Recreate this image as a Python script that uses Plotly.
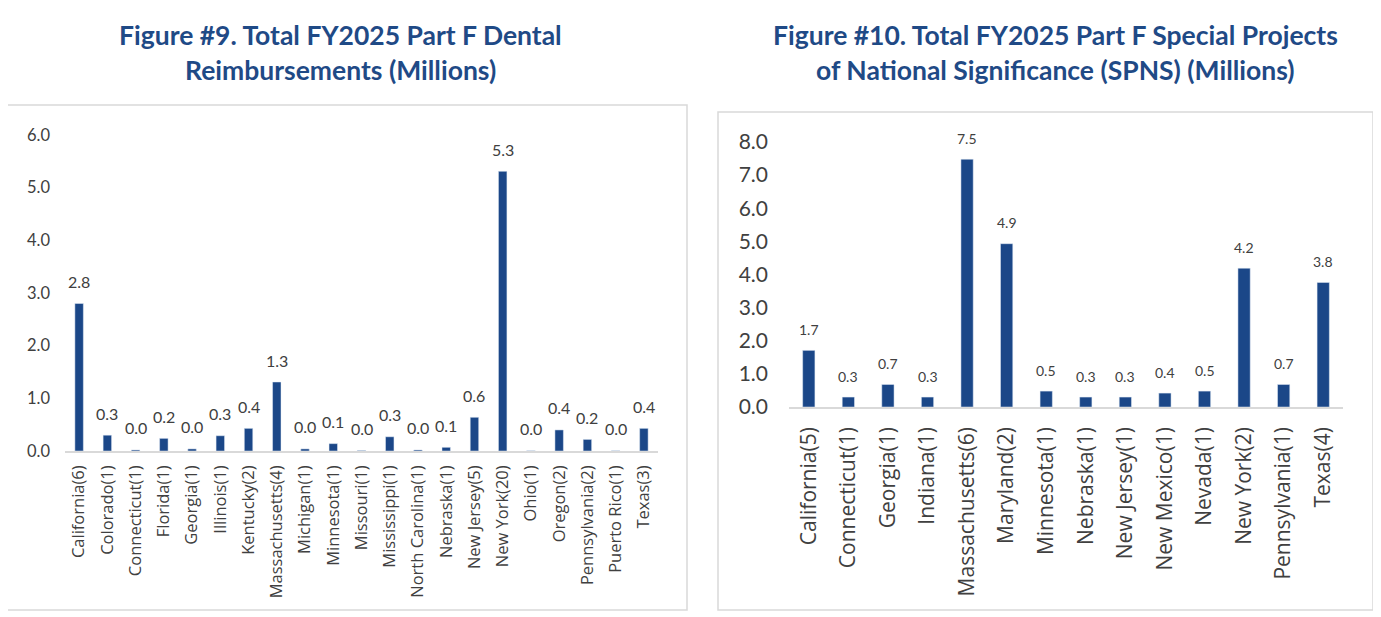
import plotly.graph_objects as go

# Figure 9 data (dental reimbursements, millions)
dental_states = ["California(6)", "Colorado(1)", "Connecticut(1)", "Florida(1)", "Georgia(1)",
                 "Illinois(1)", "Kentucky(2)", "Massachusetts(4)", "Michigan(1)", "Minnesota(1)",
                 "Missouri(1)", "Mississippi(1)", "North Carolina(1)", "Nebraska(1)", "New Jersey(5)",
                 "New York(20)", "Ohio(1)", "Oregon(2)", "Pennsylvania(2)", "Puerto Rico(1)", "Texas(3)"]
dental_values = [2.80, 0.30, 0.02, 0.24, 0.04, 0.29, 0.43, 1.31, 0.04, 0.14,
                 0.01, 0.27, 0.02, 0.07, 0.64, 5.31, 0.005, 0.40, 0.22, 0.005, 0.43]

# Figure 10 data (SPNS, millions)
spns_states = ["California(5)", "Connecticut(1)", "Georgia(1)", "Indiana(1)", "Massachusetts(6)",
               "Maryland(2)", "Minnesota(1)", "Nebraska(1)", "New Jersey(1)", "New Mexico(1)",
               "Nevada(1)", "New York(2)", "Pennsylvania(1)", "Texas(4)"]
spns_values = [1.71, 0.30, 0.68, 0.30, 7.48, 4.93, 0.48, 0.30, 0.30, 0.42, 0.48, 4.19, 0.68, 3.76]

title_left = ["Figure #9. Total FY2025 Part F Dental", "Reimbursements (Millions)"]
title_right = ["Figure #10. Total FY2025 Part F Special Projects",
               "of National Significance (SPNS) (Millions)"]

# page body has an 8px margin, so the figure is a bit smaller and
# screen positions are shifted by OFF
OFF = 8
W, H = 1373, 609
bar_color = "#1B4788"
text_color = "#404040"
title_color = "#1F4A86"
num_font = "Lato"


def px_x(v):
    return (v - OFF) / W


def px_y(v):
    return 1 - (v - OFF) / H


fig = go.Figure()

fig.add_trace(go.Bar(x=dental_states, y=dental_values, marker_color=bar_color,
                     width=0.3, xaxis="x", yaxis="y", hoverinfo="x+y"))
fig.add_trace(go.Bar(x=spns_states, y=spns_values, marker_color=bar_color,
                     width=0.31, xaxis="x2", yaxis="y2", hoverinfo="x+y"))

annotations = []
for s, v in zip(dental_states, dental_values):
    annotations.append(dict(x=s, y=v, xref="x", yref="y", text=f"{v:.1f}", showarrow=False,
                            yanchor="middle", yshift=22,
                            font=dict(family=num_font, size=16, color=text_color)))
for s, v in zip(spns_states, spns_values):
    annotations.append(dict(x=s, y=v, xref="x2", yref="y2", text=f"{v:.1f}", showarrow=False,
                            yanchor="middle", yshift=21,
                            font=dict(family=num_font, size=14, color=text_color)))

# titles, one annotation per line
for cx, lines in [(340, title_left), (1055, title_right)]:
    for i, line in enumerate(lines):
        annotations.append(dict(x=px_x(cx), y=px_y(35 + 35 * i), xref="paper", yref="paper",
                                text=f"<b>{line}</b>", showarrow=False,
                                xanchor="center", yanchor="middle",
                                font=dict(family="Lato", size=26.5, color=title_color)))

shapes = [
    dict(type="rect", xref="paper", yref="paper", x0=px_x(7), x1=px_x(687), y0=px_y(610), y1=px_y(105),
         line=dict(color="#D9D9D9", width=1.5), layer="below"),
    dict(type="rect", xref="paper", yref="paper", x0=px_x(718), x1=px_x(1373), y0=px_y(610), y1=px_y(112),
         line=dict(color="#D9D9D9", width=1.5), layer="below"),
]

fig.update_layout(
    width=W, height=H,
    margin=dict(l=0, r=0, t=0, b=0),
    paper_bgcolor="white", plot_bgcolor="white",
    showlegend=False,
    annotations=annotations,
    shapes=shapes,
    xaxis=dict(domain=[px_x(65), px_x(658)], showline=True, linecolor="#D9D9D9", linewidth=1.5,
               tickangle=-90, ticks="", showgrid=False, ticklabelstandoff=6, automargin=False,
               tickfont=dict(family="Open Sans", size=16.5, color=text_color), anchor="y"),
    yaxis=dict(domain=[px_y(451), px_y(135)], range=[0, 6], dtick=1, tickformat=".1f",
               showgrid=False, zeroline=False, showline=False, ticklabelstandoff=14, automargin=False,
               tickfont=dict(family=num_font, size=16.5, color=text_color), anchor="x"),
    xaxis2=dict(domain=[px_x(789), px_x(1343)], showline=True, linecolor="#D9D9D9", linewidth=1.5,
                tickangle=-90, ticks="", showgrid=False, ticklabelstandoff=10, automargin=False,
                tickfont=dict(family="Open Sans", size=21, color=text_color), anchor="y2"),
    yaxis2=dict(domain=[px_y(407), px_y(142)], range=[0, 8], dtick=1, tickformat=".1f",
                showgrid=False, zeroline=False, showline=False, ticklabelstandoff=20, automargin=False,
                tickfont=dict(family=num_font, size=21, color=text_color), anchor="x2"),
)

fig.write_html("out.html")
